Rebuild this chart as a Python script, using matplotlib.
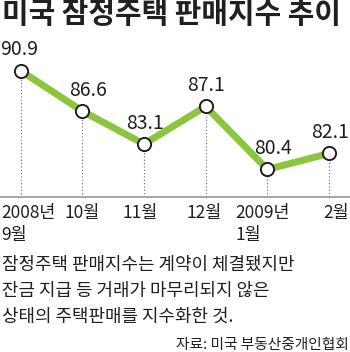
import numpy as np
import matplotlib.pyplot as plt

plt.rcParams['font.family'] = ['Noto Sans CJK KR', 'DejaVu Sans']

# 미국 잠정주택 판매지수 (월별)
months = ['2008년\n9월', '10월', '11월', '12월', '2009년\n1월', '2월']
index_vals = [90.9, 86.6, 83.1, 87.1, 80.4, 82.1]
value_labels = ['90.9', '86.6', '83.1', '87.1', '80.4', '82.1']

note_lines = ['잠정주택 판매지수는 계약이 체결됐지만',
              '잔금 지급 등 거래가 마무리되지 않은',
              '상태의 주택판매를 지수화한 것.']
source = '자료: 미국 부동산중개인협회'

# label nudges in points (value labels, month labels)
val_dx = [0, 4, 1, 0, 4, -1]
mon_dx = [5.5, 0, -2.5, -1, -3.5, -1]

W, H = 350, 352
fig = plt.figure(figsize=(W / 100, H / 100), dpi=100)
fig.patch.set_facecolor('white')

ax = fig.add_axes([0, 1 - 196.7 / H, 1, (196.7 - 40) / H])
x = np.arange(len(index_vals))
ymin, ymax = 77.5, 94.17
x0, x1 = -0.336, 5.34
ax.set_xlim(x0, x1)
ax.set_ylim(ymin, ymax)

ax.vlines(x, ymin, index_vals, colors='#666666', linestyles=(0, (1, 2)), linewidth=0.8)
ax.axhline(ymin, color='#9a9a9a', linewidth=1.2, clip_on=False)
ax.plot(x, index_vals, color='#8cc63f', linewidth=5, solid_capstyle='butt', zorder=3)
ax.plot(x, index_vals, 'o', markersize=9.5, markerfacecolor='white',
        markeredgecolor='#231f20', markeredgewidth=1.4, zorder=4)

last = len(index_vals) - 1
for i, (v, lab) in enumerate(zip(index_vals, value_labels)):
    # end labels hug the figure edges
    if i == 0:
        ha, xy = 'left', (x0, v)
    elif i == last:
        ha, xy = 'right', (x1, v)
    else:
        ha, xy = 'center', (i, v)
    ax.annotate(lab, xy=xy, xytext=(val_dx[i], 11), textcoords='offset points',
                ha=ha, va='baseline', fontsize=14, color='#231f20',
                annotation_clip=False)

for i, m in enumerate(months):
    ha, xy = ('right', (x1, ymin)) if i == last else ('center', (i, ymin))
    ax.annotate(m, xy=xy, xytext=(mon_dx[i], -5), textcoords='offset points',
                ha=ha, va='top', multialignment='left', fontsize=12.5,
                color='#231f20', linespacing=1.3, annotation_clip=False)

ax.axis('off')

fig.text(0.005, 1 - 14 / H, '미국 잠정주택 판매지수 추이', fontsize=20.8, fontweight='bold',
         color='#231f20', va='center', ha='left')

for k, line in enumerate(note_lines):
    fig.text(0.005, 1 - (265 + 26 * k) / H, line, fontsize=12.9, color='#231f20',
             va='center', ha='left')

fig.text(0.997, 1 - 345 / H, source, fontsize=10.6, color='#231f20', va='center', ha='right')

fig.savefig('out.png', dpi=100, facecolor='white')
